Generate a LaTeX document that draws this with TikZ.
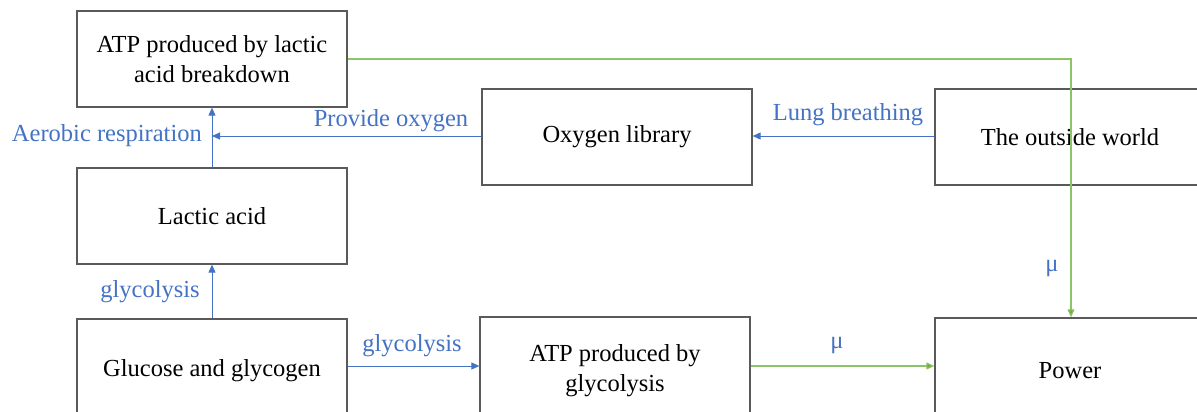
\documentclass[tikz,border=0pt]{standalone}
\usepackage{fontspec}
\setmainfont{Liberation Serif}
\usetikzlibrary{arrows.meta}
\definecolor{boxgray}{HTML}{5A5A5A}
\definecolor{lblue}{HTML}{4472C4}
\definecolor{lgreen}{HTML}{8CC46A}
\definecolor{dgreen}{HTML}{70AD47}
\tikzset{
  box/.style={draw=boxgray, line width=1.3pt, minimum width=270pt, minimum height=96pt, inner sep=0pt, align=center, font=\fontsize{24.5}{30}\selectfont},
  lbl/.style={text=lblue, font=\fontsize{24.5}{29}\selectfont, inner sep=0pt},
  barrow/.style={draw=lblue, line width=0.9pt, -{Triangle[length=8pt,width=7pt]}},
  garrow/.style={draw=lgreen, line width=1.1pt, -{Triangle[length=8pt,width=7pt,fill=dgreen]}}
}
\begin{document}
\begin{tikzpicture}[x=1pt,y=-1pt]
\useasboundingbox (0,0) rectangle (1197,412);
\clip (0,0) rectangle (1197,412);
\node[box] (atpl) at (212,59) {ATP produced by lactic\\acid breakdown};
\node[box] (lac) at (212,216) {Lactic acid};
\node[box, minimum height=104pt] (glu) at (212,371) {Glucose and glycogen};
\node[box] (oxy) at (617,137) {Oxygen library};
\node[box] (out) at (1070,137) {The outside world};
\node[box, minimum height=108pt] (atpg) at (615,371) {ATP produced by\\glycolysis};
\node[box, minimum height=106pt] (pow) at (1070,371) {Power};
\coordinate (m1) at (212,136);
\coordinate (gc) at (1071,59);
\draw[barrow] (glu.north) -- (lac.south);
\draw[barrow] (lac.north) -- (atpl.south);
\draw[barrow] (oxy.west |- 0,136) -- (m1);
\draw[barrow] (out.west |- 0,136) -- (oxy.east |- 0,136);
\draw[barrow] (glu.east |- 0,366) -- (atpg.west |- 0,366);
\draw[garrow] (atpg.east |- 0,366) -- (pow.west |- 0,366);
\draw[garrow] (atpl.east |- 0,59) -- (gc) -- (gc |- pow.north);
\node[lbl] (l1) at (150,292) {glycolysis};
\node[lbl, anchor=east] (l2) at (202,136) {Aerobic respiration};
\node[lbl] (l3) at (391,121) {Provide oxygen};
\node[lbl] (l4) at (848,115) {Lung breathing};
\node[lbl] (l5) at (412,346) {glycolysis};
\node[lbl] (l6) at (837,345) {μ};
\node[lbl] (l7) at (1052,268) {μ};
\end{tikzpicture}
\end{document}
